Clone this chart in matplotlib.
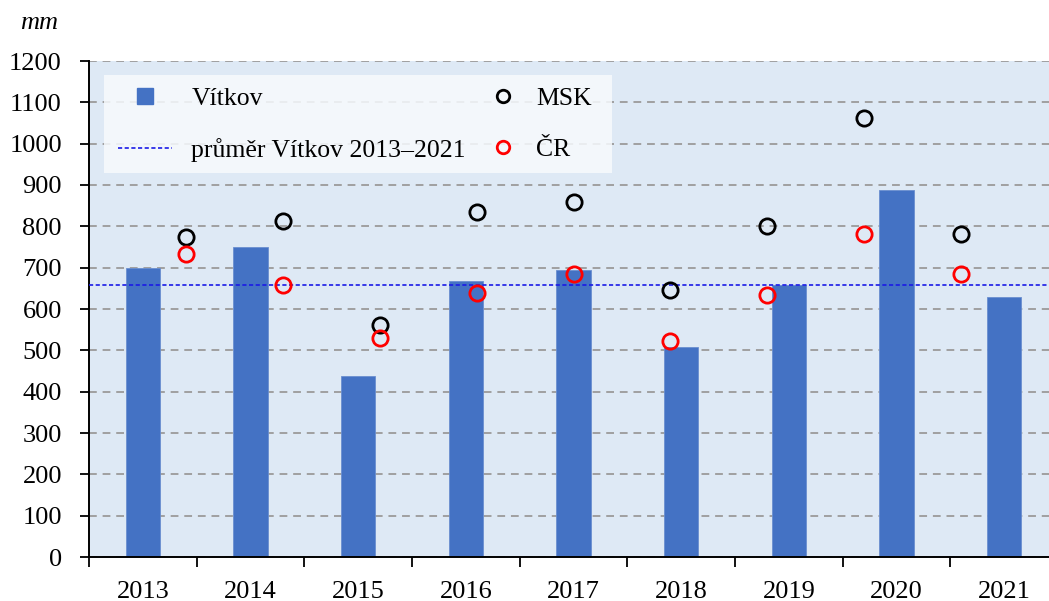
import numpy as np
import matplotlib.pyplot as plt
from matplotlib.lines import Line2D
from matplotlib.patches import Rectangle

# data (mm)
years = ['2013', '2014', '2015', '2016', '2017', '2018', '2019', '2020', '2021']
vitkov = [698, 750, 439, 668, 694, 507, 659, 887, 630]
msk = [775, 814, 561, 834, 858, 645, 801, 1061, 781]
cr = [732, 658, 531, 639, 684, 523, 635, 781, 684]

prumer = np.mean(vitkov)

plt.rcParams['font.family'] = ['Liberation Serif', 'DejaVu Serif']

W, H = 1049, 601
fig = plt.figure(figsize=(W/100, H/100), dpi=100)
# plot area runs slightly past the right edge, like the original
ax = fig.add_axes([89/W, 44/H, 969/W, 496/H])
ax.set_facecolor('#DEE9F5')

n = len(years)
pos = np.arange(n) + 0.5
ax.bar(pos, vitkov, width=0.32, color='#4472C4', edgecolor='#6A8FD0', lw=0.6, zorder=2)
ax.axhline(prumer, color='#1A1AE6', lw=1.2, linestyle=(0, (2.5, 1.5)), zorder=3)

ax.set_xlim(0, n)
ax.set_ylim(0, 1200)
ax.set_yticks(np.arange(0, 1201, 100))
ax.set_xticks(np.arange(0, n + 1))
ax.set_xticklabels([])
ax.set_xticks(pos, minor=True)
ax.set_xticklabels(years, minor=True)
ax.tick_params(axis='x', which='minor', length=0, pad=17, labelsize=19)
ax.tick_params(axis='x', which='major', direction='out', length=7, width=1.3)
ax.tick_params(axis='y', direction='out', length=6.5, width=1.3, labelsize=19, pad=13)
ax.yaxis.grid(True, linestyle=(0, (4, 3)), color='#A0A0A0', lw=1.4, zorder=1)
ax.set_axisbelow(True)
for s in ['top', 'right']:
    ax.spines[s].set_visible(False)
for s in ['left', 'bottom']:
    ax.spines[s].set_linewidth(1.4)

# MSK and CR sit on their own x scale (0-10)
ax2 = ax.twiny()
ax2.set_xlim(0, n + 1)
k = np.arange(1, n + 1)
ax2.plot(k, msk, 'o', mfc='none', mec='black', ms=11, mew=2, zorder=4)
ax2.plot(k, cr, 'o', mfc='none', mec='red', ms=11, mew=2, zorder=4)
ax2.set_xticks([])
for s in ax2.spines.values():
    s.set_visible(False)

# legend box
def axx(px):
    return (px - 89) / 969

def axy(py):
    return 1 - (py - 61) / 496

box = Rectangle((axx(104), axy(173)), axx(612) - axx(104), axy(75) - axy(173),
                transform=ax2.transAxes, facecolor='#F7FAFD', alpha=0.85,
                edgecolor='none', zorder=9)
ax2.add_patch(box)

h1 = [Line2D([], [], marker='s', ls='none', mfc='#4472C4', mec='#4472C4', ms=11),
      Line2D([], [], color='#1A1AE6', lw=1.2, linestyle=(0, (2.5, 1.5)))]
h2 = [Line2D([], [], marker='o', ls='none', mfc='none', mec='black', ms=9, mew=2),
      Line2D([], [], marker='o', ls='none', mfc='none', mec='red', ms=9, mew=2)]
common = dict(loc='upper left', fontsize=18.5, frameon=False, borderpad=0,
              borderaxespad=0, labelspacing=1.08, handleheight=0.7)
leg1 = ax2.legend(h1, ['Vítkov', 'průměr Vítkov 2013–2021'],
                  bbox_to_anchor=(axx(118), axy(87)), handlelength=2.1,
                  handletextpad=0.75, **common)
leg1.set_zorder(10)
ax2.add_artist(leg1)
leg2 = ax2.legend(h2, ['MSK', 'ČR'], bbox_to_anchor=(axx(490), axy(87)),
                  handlelength=1.05, handletextpad=0.75, **common)
leg2.set_zorder(10)

fig.text(20/W, 1 - 23/H, 'mm', style='italic', fontsize=19, va='center')

fig.savefig('out.png', dpi=100)
